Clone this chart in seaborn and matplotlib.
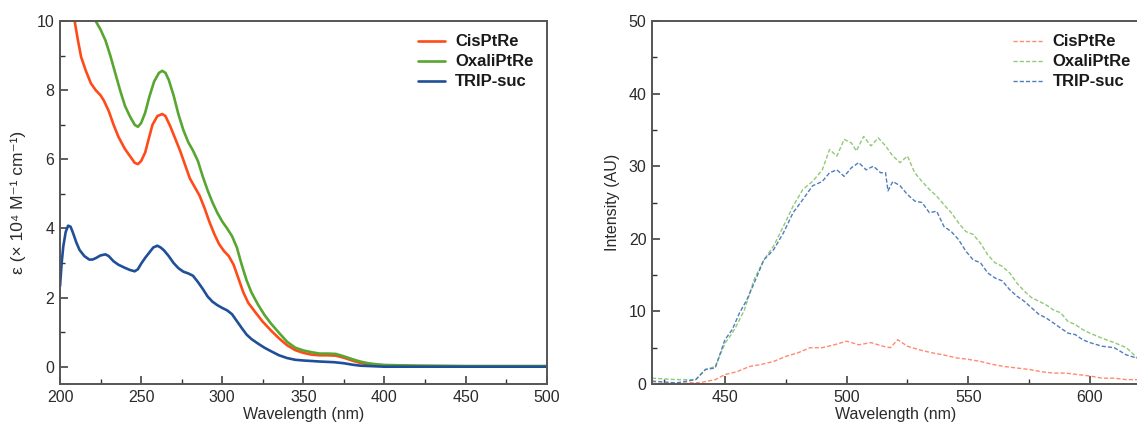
import numpy as np
import pandas as pd
import matplotlib
matplotlib.use("Agg")
import matplotlib.pyplot as plt
from matplotlib.ticker import MultipleLocator
import seaborn as sns

# ---------------- data: absorption (left) ----------------
abs_series = ["CisPtRe", "OxaliPtRe", "TRIP-suc"]

cis_wl = [207, 209, 211, 213, 216, 219, 222, 225, 227, 230, 233, 236, 240, 243, 246, 248, 250, 252.5,
          255, 257, 260, 263, 265, 268, 271, 274, 277, 280, 283, 286, 289, 292, 295, 298, 301, 304,
          307, 310, 313, 316, 320, 325, 330, 335, 340, 345, 350, 355, 360, 365, 370, 375, 380, 385,
          390, 395, 400, 420, 450, 500]
cis_eps = [10.6, 10.0, 9.45, 8.96, 8.55, 8.2, 8.0, 7.85, 7.7, 7.4, 7.0, 6.65, 6.3, 6.1, 5.9, 5.86, 5.95, 6.2,
           6.65, 7.0, 7.25, 7.31, 7.25, 6.95, 6.6, 6.25, 5.85, 5.45, 5.2, 4.95, 4.6, 4.2, 3.85, 3.55, 3.35, 3.2,
           2.95, 2.55, 2.15, 1.85, 1.6, 1.3, 1.05, 0.82, 0.62, 0.48, 0.4, 0.35, 0.33, 0.33, 0.32, 0.26, 0.18, 0.11,
           0.07, 0.05, 0.04, 0.02, 0.01, 0.01]

oxa_wl = [220, 222, 225, 228, 231, 234, 237, 240, 243, 246, 248, 250, 252.5, 255, 258, 261, 263, 265,
          267, 270, 273, 276, 279, 282, 285, 288, 291, 294, 297, 300, 303, 306, 309, 312, 315, 318,
          322, 326, 330, 335, 340, 345, 350, 355, 360, 365, 370, 375, 380, 385, 390, 395, 400, 420,
          450, 500]
oxa_eps = [10.3, 10.0, 9.75, 9.44, 9.0, 8.5, 8.0, 7.55, 7.25, 7.0, 6.94, 7.05, 7.35, 7.8, 8.25, 8.5, 8.56, 8.5,
           8.3, 7.85, 7.3, 6.85, 6.5, 6.25, 5.95, 5.5, 5.1, 4.75, 4.45, 4.2, 4.0, 3.78, 3.45, 2.95, 2.5, 2.15,
           1.8, 1.5, 1.25, 0.98, 0.72, 0.55, 0.47, 0.42, 0.38, 0.38, 0.37, 0.3, 0.22, 0.15, 0.1, 0.07, 0.05, 0.03,
           0.02, 0.02]

trip_wl = [200, 201, 202, 203.5, 205, 206.5, 208, 210, 212, 215, 218, 220, 222, 225, 228, 230, 233, 236,
           240, 243, 246, 248, 250, 252.5, 255, 257.5, 260, 262, 264, 267, 270, 273, 276, 279, 282, 285,
           288, 291, 294, 297, 300, 303, 306, 309, 312, 315, 318, 322, 326, 330, 335, 340, 345, 350,
           360, 369, 375, 380, 385, 390, 400, 450, 500]
trip_eps = [2.33, 3.0, 3.48, 3.9, 4.08, 4.05, 3.87, 3.6, 3.38, 3.2, 3.1, 3.1, 3.14, 3.22, 3.25, 3.2, 3.05, 2.95,
            2.86, 2.8, 2.76, 2.82, 2.98, 3.15, 3.3, 3.45, 3.5, 3.45, 3.37, 3.2, 3.0, 2.85, 2.75, 2.7, 2.63, 2.45,
            2.25, 2.03, 1.88, 1.78, 1.7, 1.63, 1.52, 1.32, 1.12, 0.93, 0.8, 0.67, 0.55, 0.45, 0.33, 0.25, 0.2, 0.18,
            0.15, 0.13, 0.1, 0.06, 0.03, 0.02, 0.0, 0.0, 0.0]

# ---------------- data: emission (right) ----------------
oxa_em_wl = [420, 430, 438, 442, 446, 450, 453, 455, 458, 462, 466, 470, 474, 478, 482, 486, 490,
             493, 496, 499, 502, 504, 507, 510, 513, 516, 519, 522, 525, 528, 531, 534, 537, 540,
             543, 546, 549, 552, 555, 558, 561, 564, 567, 570, 573, 576, 579, 582, 585, 588, 591,
             594, 597, 600, 605, 610, 615, 620]
oxa_em = [0.8, 0.6, 0.6, 2.0, 2.4, 5.6, 7.0, 8.2, 10.2, 14.4, 17.1, 19.0, 21.7, 24.5, 26.8, 27.9, 29.5,
          32.3, 31.4, 33.7, 33.2, 32.1, 34.1, 32.8, 33.9, 32.8, 31.4, 30.5, 31.4, 29.1, 27.9, 26.8, 25.9, 24.7,
          23.6, 22.2, 21.0, 20.6, 19.4, 17.8, 16.7, 16.2, 15.3, 13.9, 12.8, 11.9, 11.4, 10.9, 10.2, 9.8, 8.6,
          8.2, 7.5, 7.0, 6.3, 5.7, 5.0, 3.4]

trip_em_wl = [420, 430, 438, 442, 446, 450, 453, 456, 459, 462, 466, 470, 474, 478, 482, 486, 490,
              493, 496, 499, 502, 505, 508, 511, 514, 516, 517, 519, 522, 525, 528, 531, 534, 537,
              540, 543, 546, 549, 552, 555, 558, 561, 564, 567, 570, 573, 576, 579, 582, 585, 588,
              591, 594, 597, 600, 605, 610, 615, 620]
trip_em = [0.4, 0.15, 0.6, 2.0, 2.2, 6.1, 7.5, 9.8, 11.6, 13.9, 17.1, 18.5, 20.8, 23.6, 25.4, 27.3, 27.9,
           29.1, 29.5, 28.6, 29.8, 30.5, 29.5, 30.0, 29.1, 29.1, 26.6, 27.9, 27.3, 26.1, 25.2, 25.0, 23.6, 23.8,
           21.7, 21.0, 19.9, 18.3, 17.1, 16.7, 15.3, 14.6, 14.2, 13.0, 12.1, 11.4, 10.5, 9.6, 9.1, 8.4, 7.7,
           7.0, 6.8, 6.1, 5.7, 5.2, 5.0, 4.0, 3.5]

cis_em_wl = [420, 430, 440, 446, 450, 455, 460, 465, 470, 475, 480, 485, 490, 495, 500, 505, 510,
             515, 518, 521, 525, 530, 535, 540, 545, 550, 555, 560, 565, 570, 575, 580, 585, 590,
             595, 600, 605, 610, 615, 620]
cis_em = [0.1, 0.1, 0.2, 0.6, 1.3, 1.7, 2.4, 2.7, 3.1, 3.8, 4.3, 5.0, 5.0, 5.4, 5.9, 5.4, 5.7,
          5.2, 5.0, 6.1, 5.2, 4.7, 4.3, 4.0, 3.6, 3.4, 3.1, 2.7, 2.4, 2.2, 2.0, 1.7, 1.5, 1.5,
          1.3, 1.1, 0.8, 0.8, 0.6, 0.6]

abs_colors = ["#ff4a1a", "#58a632", "#1f4f98"]
em_colors = ["#ff8a72", "#92c977", "#4f7dbd"]

# ---------------- style ----------------
sns.set_theme(style="ticks")
plt.rcParams["font.family"] = ["Liberation Sans", "DejaVu Sans"]
TXT = "#2b2b2b"
plt.rcParams.update({
    "text.color": TXT, "axes.labelcolor": TXT,
    "xtick.color": "#333333", "ytick.color": "#333333",
    "xtick.labelcolor": TXT, "ytick.labelcolor": TXT,
})

fig = plt.figure(figsize=(11.37, 4.25), dpi=100)
axL = fig.add_axes([0.0528, 0.0965, 0.428, 0.854])
axR = fig.add_axes([0.5734, 0.0965, 0.428, 0.854])

# left
for name, wl, ys, c in zip(abs_series, [cis_wl, oxa_wl, trip_wl], [cis_eps, oxa_eps, trip_eps], abs_colors):
    df = pd.DataFrame({"wl": wl, "v": ys})
    sns.lineplot(data=df, x="wl", y="v", ax=axL, color=c, lw=1.9, label=name, sort=True)

axL.set_xlim(200, 500)
axL.set_ylim(-0.5, 10)
axL.xaxis.set_major_locator(MultipleLocator(50))
axL.xaxis.set_minor_locator(MultipleLocator(25))
axL.yaxis.set_major_locator(MultipleLocator(2))
axL.yaxis.set_minor_locator(MultipleLocator(1))
axL.set_xlabel("Wavelength (nm)", fontsize=11.5, labelpad=2)
axL.set_ylabel("ε (× 10⁴ M⁻¹ cm⁻¹)", fontsize=12.5, labelpad=8)

# right
for name, wl, ys, c in zip(abs_series, [cis_em_wl, oxa_em_wl, trip_em_wl], [cis_em, oxa_em, trip_em], em_colors):
    df = pd.DataFrame({"wl": wl, "v": ys})
    sns.lineplot(data=df, x="wl", y="v", ax=axR, color=c, lw=1.0, label=name, sort=True,
                 linestyle=(0, (3, 1.5)))

axR.set_xlim(420, 620)
axR.set_ylim(0, 50)
axR.xaxis.set_major_locator(MultipleLocator(50))
axR.xaxis.set_minor_locator(MultipleLocator(25))
axR.yaxis.set_major_locator(MultipleLocator(10))
axR.yaxis.set_minor_locator(MultipleLocator(5))
axR.set_xlabel("Wavelength (nm)", fontsize=11.5, labelpad=2)
axR.set_ylabel("Intensity (AU)", fontsize=11.5, labelpad=6)

for ax in (axL, axR):
    ax.tick_params(which="major", direction="in", length=6, width=1.1, labelsize=11.5, pad=4)
    ax.tick_params(which="minor", direction="in", length=3.5, width=1.0)
    for s in ax.spines.values():
        s.set_color("#555555")
        s.set_linewidth(1.4)
    ax.grid(False)

legL = axL.legend(loc="upper right", frameon=False, handlelength=1.6,
                  handletextpad=0.6, labelspacing=0.3, borderaxespad=0.4,
                  prop={"weight": "bold", "size": 12})
legR = axR.legend(loc="upper right", bbox_to_anchor=(1.012, 1.0), frameon=False, handlelength=1.8,
                  handletextpad=0.6, labelspacing=0.3, borderaxespad=0.4,
                  prop={"weight": "bold", "size": 12})
for t in list(legL.get_texts()) + list(legR.get_texts()):
    t.set_color("#1a1a1a")

fig.savefig("out.png", dpi=100)
